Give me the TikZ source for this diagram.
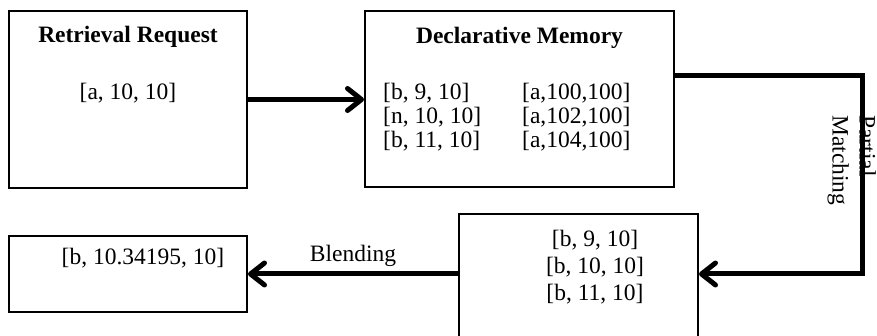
\documentclass[tikz,border=0pt]{standalone}
\usepackage{fontspec}
\setmainfont{Liberation Serif}
\usetikzlibrary{arrows.meta,positioning}

\begin{document}
\begin{tikzpicture}[x=1pt,y=-1pt,
  node distance=116pt,
  membox/.style={rectangle,draw,line width=2pt,inner sep=0pt,anchor=north west},
  hd/.style={font=\fontsize{23.5}{24}\selectfont\bfseries,inner sep=0pt,anchor=base},
  chunk/.style={font=\fontsize{23.5}{24}\selectfont,inner sep=0pt,align=left},
  lbl/.style={font=\fontsize{23.5}{24}\selectfont,inner sep=2pt},
  arr/.style={-{Straight Barb[length=14pt,width=22pt,round]},line width=5pt}]
\useasboundingbox (0,0) rectangle (877,336);
\clip (0,0) rectangle (877,336);
% boxes
\node[membox,minimum width=238pt,minimum height=177pt] (rr) at (8,10) {};
\node[membox,minimum width=309pt,minimum height=176pt,right=of rr] (dm) {};
\node[membox,minimum width=238pt,minimum height=76pt,below=46pt of rr] (res) {};
\node[membox,minimum width=239pt,minimum height=140pt] (cand) at (458,213) {};
% box contents (base of a multi-line node is its last line)
\node[hd] (rrhd) at ([yshift=-33pt]rr.north) {Retrieval Request};
\node[chunk,anchor=base] (rrq) at ([yshift=-90pt]rr.north) {[a, 10, 10]};
\node[hd] (dmhd) at ([yshift=-33pt]dm.north) {Declarative Memory};
\node[chunk,anchor=base west] (dmA) at ([xshift=19pt,yshift=-137pt]dm.north west) {[b, 9, 10]\\{}[n, 10, 10]\\{}[b, 11, 10]};
\node[chunk,anchor=base west] (dmB) at ([xshift=158pt,yshift=-137pt]dm.north west) {[a,100,100]\\{}[a,102,100]\\{}[a,104,100]};
\node[chunk,align=center,anchor=base,font=\fontsize{23.5}{27}\selectfont] (candq) at ([xshift=16.5pt,yshift=-87pt]cand.north) {[b, 9, 10]\\{}[b, 10, 10]\\{}[b, 11, 10]};
\node[chunk,anchor=base] (resq) at ([xshift=15pt,yshift=-30pt]res.north) {[b, 10.34195, 10]};
% partial matching step
\node[lbl,rotate=-90,align=left,anchor=north west,font=\fontsize{23.5}{27}\selectfont] (pm) at (878,113) {Partial\\Matching};
\coordinate (bend) at (862,76);
\draw[arr] (rr.east) -- (dm.west);
\draw[arr] (dm.east |- bend) -- (bend) |- ([yshift=10pt]cand.east);
\draw[arr] ([yshift=10pt]cand.west) -- (res.east) node[midway,above=3pt,lbl] (bl) {Blending};
\end{tikzpicture}
\end{document}
